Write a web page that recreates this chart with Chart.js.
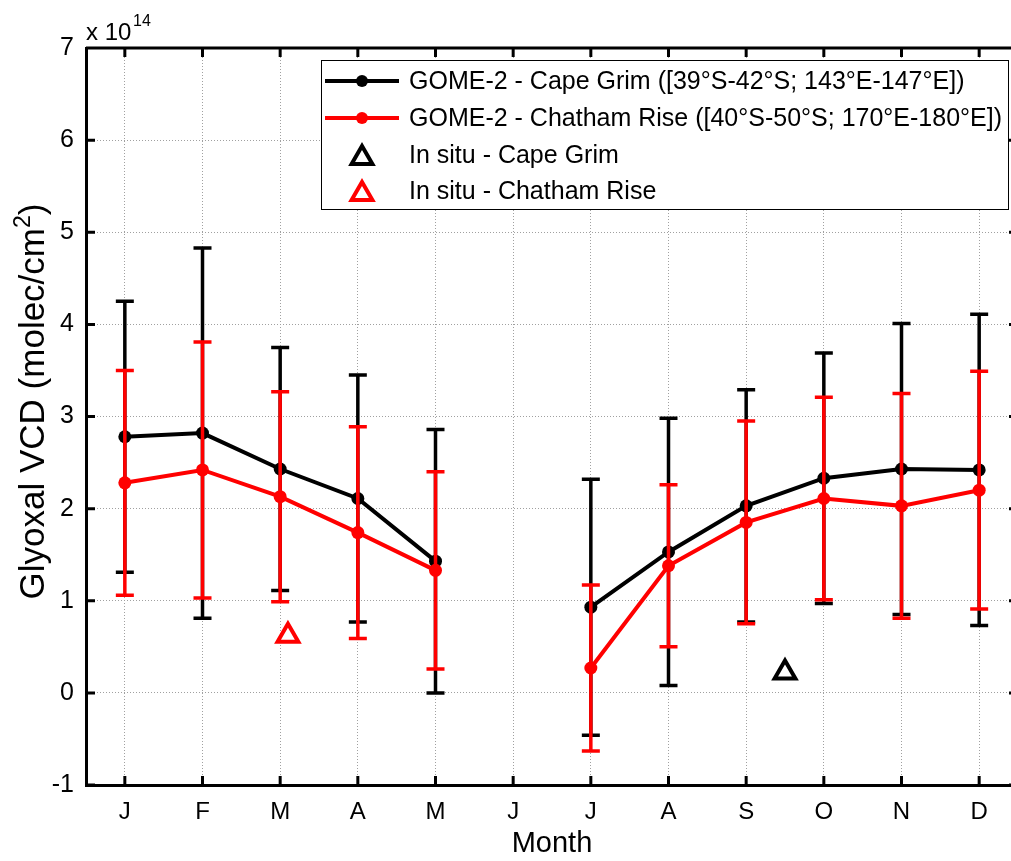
<!DOCTYPE html>
<html>
<head>
<meta charset="utf-8">
<script src="https://cdn.jsdelivr.net/npm/chart.js@4.4.1/dist/chart.umd.min.js"></script>
<style>
  html, body { margin: 0; padding: 0; background: #fff; overflow: hidden; }
  canvas { display: block; }
</style>
</head>
<body>
<canvas id="glyoxalChart" width="1040" height="861"></canvas>
<script>
// Monthly glyoxal VCD, in units of 1e14 molec/cm2, with +/- 1 sigma
const months = ['J', 'F', 'M', 'A', 'M', 'J', 'J', 'A', 'S', 'O', 'N', 'D'];
const capeGrimVcd = [2.78, 2.82, 2.43, 2.11, 1.43, null, 0.93, 1.53, 2.03, 2.33, 2.43, 2.42];
const capeGrimErr = [1.47, 2.01, 1.32, 1.34, 1.43, null, 1.39, 1.45, 1.26, 1.36, 1.58, 1.69];
const chathamVcd = [2.28, 2.42, 2.13, 1.74, 1.33, null, 0.27, 1.38, 1.85, 2.11, 2.03, 2.20];
const chathamErr = [1.22, 1.39, 1.14, 1.15, 1.07, null, 0.90, 0.88, 1.10, 1.10, 1.22, 1.29];

// in situ measurements (month position, VCD)
const inSituCapeGrim = [{ x: 9.5, y: 0.22 }];
const inSituChatham = [{ x: 3.1, y: 0.62 }];

const yTicks = [-1, 0, 1, 2, 3, 4, 5, 6, 7];

const FONT = '"Liberation Sans", Arial, Helvetica, sans-serif';
const RED = '#ff0000';
const BLACK = '#000000';

const toPoints = vals => vals.map((v, i) => ({ x: i + 1, y: v }));

// vertical error bars with caps, drawn right after their own series
const errorBars = {
  id: 'errorBars',
  afterDatasetDraw(chart, args) {
    const ds = chart.data.datasets[args.index];
    if (!ds.errors) return;
    const ctx = chart.ctx;
    const xs = chart.scales.x, ys = chart.scales.y;
    ctx.save();
    ctx.strokeStyle = ds.borderColor;
    ctx.lineWidth = 3.5;
    ds.data.forEach((p, i) => {
      const e = ds.errors[i];
      if (p.y == null || e == null) return;
      const px = xs.getPixelForValue(p.x);
      const top = ys.getPixelForValue(p.y + e);
      const bot = ys.getPixelForValue(p.y - e);
      ctx.beginPath();
      ctx.moveTo(px, top); ctx.lineTo(px, bot);
      ctx.moveTo(px - 9, top); ctx.lineTo(px + 9, top);
      ctx.moveTo(px - 9, bot); ctx.lineTo(px + 9, bot);
      ctx.stroke();
    });
    ctx.restore();
  }
};

// box outline, inward tick marks, y title, exponent label and legend
const frame = {
  id: 'frame',
  afterDraw(chart) {
    const { ctx, chartArea: a } = chart;
    const xs = chart.scales.x, ys = chart.scales.y;
    ctx.save();
    ctx.strokeStyle = BLACK;
    ctx.lineWidth = 3;
    ctx.beginPath();
    ctx.moveTo(a.left, a.top); ctx.lineTo(a.right, a.top); ctx.lineTo(a.right, a.bottom);
    xs.ticks.forEach(t => {
      const px = xs.getPixelForValue(t.value);
      ctx.moveTo(px, a.bottom); ctx.lineTo(px, a.bottom - 9);
      ctx.moveTo(px, a.top); ctx.lineTo(px, a.top + 9);
    });
    ys.ticks.forEach(t => {
      const py = ys.getPixelForValue(t.value);
      ctx.moveTo(a.left, py); ctx.lineTo(a.left + 9, py);
      ctx.moveTo(a.right, py); ctx.lineTo(a.right - 9, py);
    });
    ctx.stroke();

    ctx.fillStyle = BLACK;
    ctx.textBaseline = 'alphabetic';

    // y axis title with superscript unit, rotated
    ctx.save();
    ctx.translate(44, (a.top + a.bottom) / 2);
    ctx.rotate(-Math.PI / 2);
    const main = 'Glyoxal VCD (molec/cm';
    ctx.font = '35px ' + FONT;
    const wMain = ctx.measureText(main).width;
    const wClose = ctx.measureText(')').width;
    ctx.font = '23px ' + FONT;
    const wSup = ctx.measureText('2').width;
    const x0 = -(wMain + wSup + wClose) / 2 + 15;
    ctx.textAlign = 'left';
    ctx.font = '35px ' + FONT;
    ctx.fillText(main, x0, 0);
    ctx.font = '23px ' + FONT;
    ctx.fillText('2', x0 + wMain, -14);
    ctx.font = '35px ' + FONT;
    ctx.fillText(')', x0 + wMain + wSup, 0);
    ctx.restore();

    // axis multiplier
    ctx.textAlign = 'left';
    ctx.font = '24px ' + FONT;
    ctx.fillText('x 10', 86, 40);
    ctx.font = '16px ' + FONT;
    ctx.fillText('14', 133, 26);

    // legend box
    const box = { left: 321, top: 60, right: 1008, bottom: 209 };
    ctx.fillStyle = '#fff';
    ctx.fillRect(box.left, box.top, box.right - box.left, box.bottom - box.top);
    ctx.lineWidth = 1;
    ctx.strokeRect(box.left + 0.5, box.top + 0.5, box.right - box.left, box.bottom - box.top);
    const rowY = [81, 118, 155, 191];
    ctx.font = '25px ' + FONT;
    ctx.textBaseline = 'middle';
    chart.data.datasets.forEach((ds, i) => {
      const y = rowY[i];
      ctx.strokeStyle = ds.borderColor;
      if (ds.type === 'line') {
        ctx.lineWidth = 4;
        ctx.beginPath();
        ctx.moveTo(325, y); ctx.lineTo(399, y);
        ctx.stroke();
        ctx.fillStyle = ds.borderColor;
        ctx.beginPath();
        ctx.arc(362, y, 6, 0, Math.PI * 2);
        ctx.fill();
      } else {
        ctx.fillStyle = 'rgba(0,0,0,0)';
        ctx.lineWidth = ds.borderWidth;
        Chart.helpers.drawPoint(ctx, { pointStyle: 'triangle', radius: ds.pointRadius, borderWidth: ds.borderWidth, rotation: 0 }, 362, y + 3);
      }
      ctx.fillStyle = BLACK;
      ctx.fillText(ds.label, 409, y + 1);
    });
    ctx.restore();
  }
};

new Chart(document.getElementById('glyoxalChart'), {
  data: {
    datasets: [
      {
        type: 'line',
        label: 'GOME-2 - Cape Grim ([39°S-42°S; 143°E-147°E])',
        data: toPoints(capeGrimVcd),
        errors: capeGrimErr,
        borderColor: BLACK,
        backgroundColor: BLACK,
        borderWidth: 4,
        pointRadius: 6.5,
        pointBorderWidth: 0,
        spanGaps: false,
        order: 3
      },
      {
        type: 'line',
        label: 'GOME-2 - Chatham Rise ([40°S-50°S; 170°E-180°E])',
        data: toPoints(chathamVcd),
        errors: chathamErr,
        borderColor: RED,
        backgroundColor: RED,
        borderWidth: 4,
        pointRadius: 6.5,
        pointBorderWidth: 0,
        spanGaps: false,
        order: 2
      },
      {
        type: 'scatter',
        label: 'In situ - Cape Grim',
        data: inSituCapeGrim,
        borderColor: BLACK,
        backgroundColor: 'rgba(0,0,0,0)',
        pointStyle: 'triangle',
        pointRadius: 12,
        borderWidth: 4,
        order: 1
      },
      {
        type: 'scatter',
        label: 'In situ - Chatham Rise',
        data: inSituChatham,
        borderColor: RED,
        backgroundColor: 'rgba(0,0,0,0)',
        pointStyle: 'triangle',
        pointRadius: 12,
        borderWidth: 4,
        order: 0
      }
    ]
  },
  options: {
    responsive: false,
    animation: false,
    layout: { padding: { top: 48, right: 22, left: 0, bottom: 0 } },
    plugins: {
      legend: { display: false },
      tooltip: { enabled: false }
    },
    scales: {
      x: {
        type: 'linear',
        min: 0.5,
        max: 12.5,
        afterBuildTicks: s => { s.ticks = months.map((m, i) => ({ value: i + 1 })); },
        afterFit: s => { s.height = 76; },
        ticks: {
          color: BLACK,
          font: { family: FONT, size: 24 },
          padding: 13,
          maxRotation: 0,
          autoSkip: false,
          callback: v => months[v - 1]
        },
        grid: { color: '#a0a0a0', lineWidth: 1, drawTicks: false },
        border: { color: BLACK, width: 3, dash: [1, 2] },
        title: {
          display: true,
          text: 'Month',
          color: BLACK,
          font: { family: FONT, size: 29 },
          padding: { top: 0, bottom: 0 }
        }
      },
      y: {
        type: 'linear',
        min: -1,
        max: 7,
        afterBuildTicks: s => { s.ticks = yTicks.map(v => ({ value: v })); },
        afterFit: s => { s.width = 86; },
        ticks: {
          color: BLACK,
          font: { family: FONT, size: 25 },
          padding: 12
        },
        grid: { color: '#a0a0a0', lineWidth: 1, drawTicks: false },
        border: { color: BLACK, width: 3, dash: [1, 2] },
        title: { display: false }
      }
    }
  },
  plugins: [errorBars, frame]
});
</script>
</body>
</html>
